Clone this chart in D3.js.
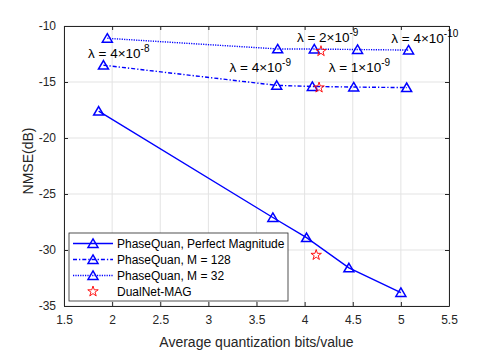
<!DOCTYPE html>
<html>
<head>
<meta charset="utf-8">
<script src="https://cdn.jsdelivr.net/npm/d3@7"></script>
<style>
  body { margin: 0; background: #fff; }
  svg { font-family: "Liberation Sans", Arial, sans-serif; }
</style>
</head>
<body>
<svg width="498" height="351"></svg>
<script>
(function () {
    'use strict';

    // series values
    var perfectX = [1.86, 3.67, 4.02, 4.46, 5.0];
    var perfectY = [-17.6, -27.1, -28.9, -31.6, -33.8];
    var m128X = [1.91, 3.71, 4.08, 4.51, 5.06];
    var m128Y = [-13.5, -15.3, -15.4, -15.45, -15.5];
    var m32X = [1.95, 3.72, 4.1, 4.55, 5.08];
    var m32Y = [-11.1, -12.05, -12.06, -12.1, -12.15];
    var dualX = [4.12, 4.15, 4.17];
    var dualY = [-30.45, -15.5, -12.25];

    var xTicks = [1.5, 2, 2.5, 3, 3.5, 4, 4.5, 5, 5.5];
    var yTicks = [-35, -30, -25, -20, -15, -10];

    var legendNames = ['PhaseQuan, Perfect Magnitude', 'PhaseQuan, M = 128', 'PhaseQuan, M = 32', 'DualNet-MAG'];

    // lambda annotations: base text, exponent, left x, baseline y (data units)
    var noteBase = ['\u03bb = 4\u00d710', '\u03bb = 4\u00d710', '\u03bb = 2\u00d710', '\u03bb = 1\u00d710', '\u03bb = 4\u00d710'];
    var noteExp = ['-8', '-9', '-9', '-9', '-10'];
    var noteX = [1.75, 3.22, 3.92, 4.25, 4.9];
    var noteY = [-12.85, -14.15, -11.45, -14.15, -11.48];

    var blue = '#0000ff';
    var svg = d3.select('svg');
    var margin = {top: 26, right: 49, bottom: 45, left: 64};
    var width = +svg.attr('width') - margin.left - margin.right;
    var height = +svg.attr('height') - margin.top - margin.bottom;

    svg.append('rect').attr('width', 498).attr('height', 351).attr('fill', '#fff');
    var g = svg.append('g').attr('transform', 'translate(' + margin.left + ',' + margin.top + ')');

    var x = d3.scaleLinear().domain([1.5, 5.5]).range([0, width]);
    var y = d3.scaleLinear().domain([-35, -10]).range([height, 0]);

    // grid
    g.append('g').selectAll('line').data(xTicks).enter().append('line')
        .attr('x1', function (d) { return x(d); }).attr('x2', function (d) { return x(d); })
        .attr('y1', 0).attr('y2', height)
        .attr('stroke', '#e3e3e3').attr('stroke-width', 1);
    g.append('g').selectAll('line').data(yTicks).enter().append('line')
        .attr('y1', function (d) { return y(d); }).attr('y2', function (d) { return y(d); })
        .attr('x1', 0).attr('x2', width)
        .attr('stroke', '#e3e3e3').attr('stroke-width', 1);

    // axes, ticks inward (MATLAB box)
    var xAxis = g.append('g').attr('transform', 'translate(0,' + height + ')')
        .call(d3.axisBottom(x).tickValues(xTicks).tickSizeInner(-4).tickSizeOuter(0).tickPadding(9)
            .tickFormat(d3.format('')));
    var yAxis = g.append('g')
        .call(d3.axisLeft(y).tickValues(yTicks).tickSizeInner(-4).tickSizeOuter(0).tickPadding(8)
            .tickFormat(function (d) { return d; }));
    g.append('g').call(d3.axisTop(x).tickValues(xTicks).tickSizeInner(-4).tickSizeOuter(0).tickFormat(''));
    g.append('g').attr('transform', 'translate(' + width + ',0)')
        .call(d3.axisRight(y).tickValues(yTicks).tickSizeInner(-4).tickSizeOuter(0).tickFormat(''));

    g.selectAll('.domain').attr('stroke', '#262626');
    g.selectAll('.tick line').attr('stroke', '#262626');
    [xAxis, yAxis].forEach(function (a) {
        a.selectAll('text').attr('fill', '#262626').style('font-size', '12px')
            .style('font-family', '"Liberation Sans", Arial, sans-serif');
    });

    g.append('text').attr('x', width / 2).attr('y', height + 41)
        .attr('text-anchor', 'middle').attr('fill', '#262626').style('font-size', '14px')
        .text('Average quantization bits/value');
    g.append('text').attr('transform', 'rotate(-90)')
        .attr('x', -height / 2 + 5).attr('y', -31)
        .attr('text-anchor', 'middle').attr('fill', '#262626').style('font-size', '14px')
        .text('NMSE(dB)');

    var tri = 'M0,-4.6L5,3.9L-5,3.9Z';
    var star = d3.symbol().type(d3.symbolStar).size(34)();

    function series(xs, ys, dash) {
        var pts = xs.map(function (v, i) { return [v, ys[i]]; });
        var line = d3.line()
            .x(function (d) { return x(d[0]); })
            .y(function (d) { return y(d[1]); });
        g.append('path').datum(pts).attr('d', line)
            .attr('fill', 'none').attr('stroke', blue).attr('stroke-width', 1.4)
            .attr('stroke-dasharray', dash);
        g.append('g').selectAll('path').data(pts).enter().append('path')
            .attr('d', tri)
            .attr('transform', function (d) { return 'translate(' + x(d[0]) + ',' + y(d[1]) + ')'; })
            .attr('fill', 'none').attr('stroke', blue).attr('stroke-width', 1.5);
    }

    var dashes = [null, '4,2,1.3,2', '1.2,1.2'];
    series(perfectX, perfectY, dashes[0]);
    series(m128X, m128Y, dashes[1]);
    series(m32X, m32Y, dashes[2]);

    g.append('g').selectAll('path').data(dualX).enter().append('path')
        .attr('d', star)
        .attr('transform', function (d, i) { return 'translate(' + x(d) + ',' + y(dualY[i]) + ')'; })
        .attr('fill', 'none').attr('stroke', '#ff0000').attr('stroke-width', 0.9);

    // lambda notes
    noteBase.forEach(function (t, i) {
        var txt = g.append('text')
            .attr('x', x(noteX[i])).attr('y', y(noteY[i]))
            .attr('fill', '#000').style('font-size', '13.5px');
        txt.append('tspan').text(t);
        txt.append('tspan').attr('dy', -6).style('font-size', '10px').text(noteExp[i]);
    });

    // legend
    var leg = svg.append('g').attr('transform', 'translate(69,233)');
    leg.append('rect').attr('width', 219).attr('height', 68)
        .attr('fill', '#fff').attr('stroke', '#262626').attr('stroke-width', 0.8);
    legendNames.forEach(function (name, i) {
        var row = leg.append('g').attr('transform', 'translate(0,' + (10.5 + i * 16) + ')');
        if (i < 3) {
            row.append('line').attr('x1', 4).attr('x2', 44)
                .attr('stroke', blue).attr('stroke-width', 1.4).attr('stroke-dasharray', dashes[i]);
            row.append('path').attr('d', tri).attr('transform', 'translate(24,0)')
                .attr('fill', 'none').attr('stroke', blue).attr('stroke-width', 1.5);
        } else {
            row.append('path').attr('d', star).attr('transform', 'translate(24,0)')
                .attr('fill', 'none').attr('stroke', '#ff0000').attr('stroke-width', 0.9);
        }
        row.append('text').attr('x', 48).attr('y', 4.5)
            .attr('fill', '#000').style('font-size', '12px').text(name);
    });
})();
</script>
</body>
</html>
